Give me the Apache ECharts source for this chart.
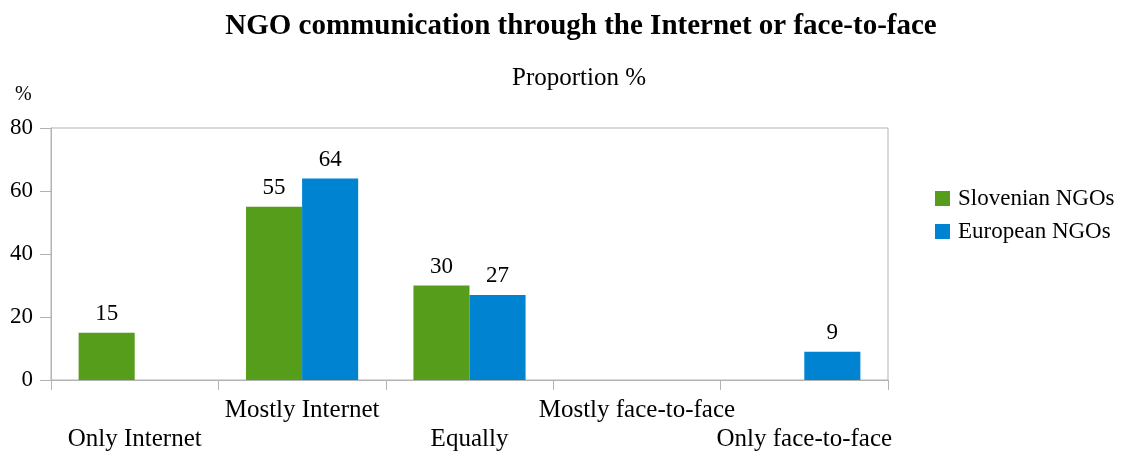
<!DOCTYPE html>
<html>
<head>
<meta charset="utf-8">
<script src="https://cdn.jsdelivr.net/npm/echarts@6/dist/echarts.min.js"></script>
<style>
  html, body { margin: 0; padding: 0; background: #fff; overflow: hidden; }
  #chart { width: 1128px; height: 454px; }
</style>
</head>
<body>
<div id="chart"></div>
<script>
// Communication mode categories
const categories = ['Only Internet', 'Mostly Internet', 'Equally', 'Mostly face-to-face', 'Only face-to-face'];
// Share of NGOs (%) per mode
const slovenianNGOs = [15, 55, 30, 0, 0];
const europeanNGOs = [0, 64, 27, 0, 9];
// Value axis ticks
const yTicks = [0, 20, 40, 60, 80];

const FONT = '"Liberation Serif", "Times New Roman", serif';
const AXIS_GRAY = '#b3b3b3';

const chart = echarts.init(document.getElementById('chart'), null, { renderer: 'canvas' });

const valueLabel = {
  show: true,
  position: 'top',
  distance: 7,
  color: '#000',
  fontFamily: FONT,
  fontSize: 23,
  formatter: p => (p.value ? String(p.value) : '')
};

chart.setOption({
  backgroundColor: '#fff',
  animation: false,
  title: [
    {
      text: 'NGO communication through the Internet or face-to-face',
      left: 576, top: 7, textAlign: 'center',
      textStyle: { fontFamily: FONT, fontWeight: 'bold', fontSize: 29, color: '#000' }
    },
    {
      text: 'Proportion %',
      left: 574, top: 61, textAlign: 'center',
      textStyle: { fontFamily: FONT, fontWeight: 'normal', fontSize: 25, color: '#000' }
    },
    {
      text: '%',
      left: 10, top: 80,
      textStyle: { fontFamily: FONT, fontWeight: 'normal', fontSize: 20, color: '#000' }
    }
  ],
  legend: {
    orient: 'vertical',
    left: 930, top: 182,
    itemWidth: 15, itemHeight: 15,
    itemGap: 10,
    icon: 'rect',
    textStyle: { fontFamily: FONT, fontSize: 23, color: '#000', padding: [0, 0, 0, 3] },
    data: ['Slovenian NGOs', 'European NGOs']
  },
  grid: {
    left: 51, width: 837, top: 128, height: 255,
    show: true, borderColor: AXIS_GRAY, borderWidth: 1,
    containLabel: false
  },
  xAxis: {
    type: 'category',
    data: categories,
    axisLine: { lineStyle: { color: AXIS_GRAY, width: 1 } },
    axisTick: { show: true, length: 10, lineStyle: { color: AXIS_GRAY } },
    axisLabel: {
      interval: 0,
      color: '#000',
      fontFamily: FONT,
      fontSize: 25,
      lineHeight: 29,
      margin: 16,
      formatter: (v, i) => (i % 2 === 0 ? '\n' + v : v)
    }
  },
  yAxis: {
    type: 'value',
    min: yTicks[0], max: yTicks[yTicks.length - 1], interval: 20,
    axisLine: { show: true, lineStyle: { color: AXIS_GRAY, width: 1 } },
    axisTick: { show: true, length: 11, lineStyle: { color: AXIS_GRAY } },
    splitLine: { show: false },
    axisLabel: { color: '#000', fontFamily: FONT, fontSize: 23, margin: 18 }
  },
  series: [
    {
      name: 'Slovenian NGOs',
      type: 'bar',
      data: slovenianNGOs,
      itemStyle: { color: '#579D1C' },
      barGap: '0%',
      barCategoryGap: '33%',
      label: valueLabel
    },
    {
      name: 'European NGOs',
      type: 'bar',
      data: europeanNGOs,
      itemStyle: { color: '#0084D1' },
      barGap: '0%',
      barCategoryGap: '33%',
      label: valueLabel
    }
  ]
});
</script>
</body>
</html>
